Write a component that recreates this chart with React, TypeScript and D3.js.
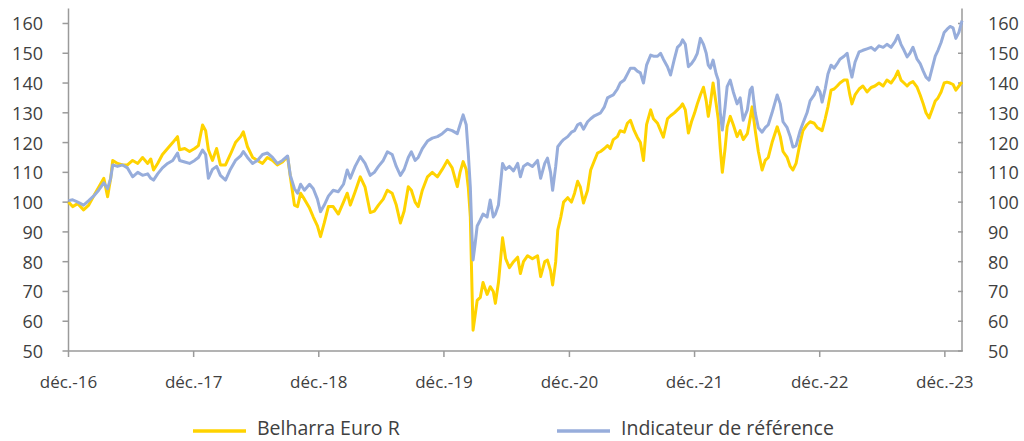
import { useEffect, useRef } from "react";
import * as d3 from "d3";

const dates = [
  "2016-12-01", "2016-12-13", "2016-12-28", "2017-01-14", "2017-01-29", "2017-02-12", "2017-02-27", "2017-03-14",
  "2017-03-25", "2017-04-03", "2017-04-09", "2017-04-23", "2017-05-08", "2017-05-22", "2017-06-06", "2017-06-21",
  "2017-07-05", "2017-07-20", "2017-07-29", "2017-08-06", "2017-08-18", "2017-09-01", "2017-09-16", "2017-10-01",
  "2017-10-15", "2017-10-21", "2017-11-05", "2017-11-19", "2017-12-04", "2017-12-15", "2017-12-27", "2018-01-05",
  "2018-01-13", "2018-01-25", "2018-02-06", "2018-02-17", "2018-03-04", "2018-03-18", "2018-04-02", "2018-04-17",
  "2018-04-25", "2018-05-07", "2018-05-22", "2018-06-05", "2018-06-20", "2018-07-04", "2018-07-19", "2018-08-02",
  "2018-08-17", "2018-09-01", "2018-09-09", "2018-09-21", "2018-09-30", "2018-10-09", "2018-10-20", "2018-11-04",
  "2018-11-15", "2018-11-27", "2018-12-06", "2018-12-17", "2018-12-29", "2019-01-12", "2019-01-27", "2019-02-11",
  "2019-02-22", "2019-03-03", "2019-03-17", "2019-04-01", "2019-04-15", "2019-04-30", "2019-05-12", "2019-05-24",
  "2019-06-07", "2019-06-19", "2019-07-03", "2019-07-15", "2019-07-27", "2019-08-07", "2019-08-19", "2019-08-28",
  "2019-09-08", "2019-09-17", "2019-09-29", "2019-10-14", "2019-10-28", "2019-11-12", "2019-11-26", "2019-12-11",
  "2019-12-25", "2020-01-09", "2020-01-17", "2020-01-26", "2020-02-04", "2020-02-10", "2020-02-16", "2020-02-21",
  "2020-02-24", "2020-03-01", "2020-03-07", "2020-03-16", "2020-03-24", "2020-04-05", "2020-04-14", "2020-04-23",
  "2020-04-29", "2020-05-08", "2020-05-20", "2020-05-29", "2020-06-09", "2020-06-21", "2020-07-03", "2020-07-11",
  "2020-07-20", "2020-08-01", "2020-08-15", "2020-08-30", "2020-09-08", "2020-09-20", "2020-09-28", "2020-10-07",
  "2020-10-13", "2020-10-22", "2020-10-28", "2020-11-06", "2020-11-14", "2020-11-26", "2020-12-07", "2020-12-16",
  "2020-12-25", "2021-01-02", "2021-01-11", "2021-01-23", "2021-02-01", "2021-02-12", "2021-02-21", "2021-03-02",
  "2021-03-13", "2021-03-22", "2021-03-30", "2021-04-08", "2021-04-20", "2021-04-28", "2021-05-10", "2021-05-19",
  "2021-05-28", "2021-06-08", "2021-06-17", "2021-06-26", "2021-07-05", "2021-07-14", "2021-07-26", "2021-08-03",
  "2021-08-15", "2021-08-24", "2021-09-01", "2021-09-13", "2021-09-22", "2021-10-03", "2021-10-12", "2021-10-21",
  "2021-10-27", "2021-11-04", "2021-11-13", "2021-11-22", "2021-12-01", "2021-12-09", "2021-12-18", "2021-12-27",
  "2022-01-04", "2022-01-10", "2022-01-16", "2022-01-24", "2022-02-02", "2022-02-08", "2022-02-14", "2022-02-20",
  "2022-02-28", "2022-03-06", "2022-03-15", "2022-03-24", "2022-04-04", "2022-04-13", "2022-04-22", "2022-05-04",
  "2022-05-12", "2022-05-18", "2022-05-27", "2022-06-05", "2022-06-16", "2022-06-25", "2022-07-04", "2022-07-15",
  "2022-07-30", "2022-08-08", "2022-08-16", "2022-08-28", "2022-09-06", "2022-09-14", "2022-09-23", "2022-10-05",
  "2022-10-13", "2022-10-25", "2022-11-03", "2022-11-15", "2022-11-24", "2022-12-02", "2022-12-08", "2022-12-17",
  "2022-12-25", "2023-01-03", "2023-01-12", "2023-01-21", "2023-01-29", "2023-02-10", "2023-02-19", "2023-02-27",
  "2023-03-05", "2023-03-14", "2023-03-26", "2023-04-06", "2023-04-18", "2023-04-30", "2023-05-11", "2023-05-23",
  "2023-06-04", "2023-06-15", "2023-06-27", "2023-07-09", "2023-07-17", "2023-07-26", "2023-08-04", "2023-08-13",
  "2023-08-21", "2023-08-30", "2023-09-11", "2023-09-20", "2023-09-29", "2023-10-07", "2023-10-16", "2023-10-25",
  "2023-11-03", "2023-11-11", "2023-11-20", "2023-11-29", "2023-12-07", "2023-12-16", "2023-12-25", "2024-01-02",
  "2024-01-11", "2024-01-20",
];

// Belharra Euro R (yellow)
const belharra = [
  100, 98.5, 99.5, 97.4, 99, 102, 105, 108,
  101.8, 108, 114, 113, 112.5, 112.5, 114, 113,
  115, 113, 114.5, 110.8, 113, 116, 118, 120,
  122, 117.6, 118, 117, 118, 119, 125.9, 124,
  117.6, 114, 118, 112.5, 112.5, 116, 120, 122,
  123.6, 118.6, 115, 114, 113, 115, 114, 112.5,
  113.5, 115.3, 108.5, 99, 98.5, 103, 101, 98,
  95, 92, 88.4, 93, 98.5, 98.5, 96, 100,
  103, 99, 103.5, 108.5, 105, 96.5, 97, 99,
  101, 104, 103, 99, 93, 97, 105.2, 104,
  100, 98.5, 104, 108.5, 110, 108.5, 111, 114,
  111.5, 105.2, 110, 113.6, 111, 105, 95, 70,
  57, 62, 67, 68, 73, 69, 71.6, 70,
  66, 73, 88, 81, 78, 80, 81.5, 76,
  80, 82, 81, 82, 75, 80, 80.5, 77,
  72.2, 80, 90.6, 95, 100, 101.5, 100, 103,
  107, 105, 99.7, 104, 110.8, 114, 116.5, 117,
  118, 119, 118, 121, 122, 124, 123.5, 126.5,
  127.5, 124, 121.8, 120, 114, 126, 131, 128,
  126.5, 124, 121.8, 128, 129, 130, 131, 132,
  133, 131, 123.2, 127, 129.9, 133, 136, 138.6,
  134, 128.8, 133, 140, 133, 128, 118, 110,
  118, 125.3, 128.8, 126, 122, 124, 121, 123,
  128, 132, 124, 117, 110.8, 114, 115, 120,
  125.3, 122, 117, 115, 112, 110.8, 113, 120,
  124, 126, 127, 126.5, 125, 124.5, 124, 128,
  132, 137.6, 138, 139, 140, 141, 141, 136,
  133, 136, 138, 139, 137, 138.5, 139, 140,
  139, 141, 140, 142, 144, 141, 140, 139,
  140, 140.5, 138.6, 136, 133, 130, 128.3, 131,
  134, 135, 137, 140, 140.3, 140, 139.5, 137.6,
  139, 140.3,
];

// Indicateur de référence (blue)
const reference = [
  100.5, 100.8, 100, 99, 100.5, 102, 104, 106.5,
  104.5, 108, 112.5, 112, 112.5, 111.5, 108.5, 110,
  109, 109.5, 108, 107.4, 109.5, 111.5, 113, 114,
  116.5, 114, 113.5, 113, 114, 115, 117.5, 116,
  108, 111, 112, 109, 107.4, 111, 114, 115.5,
  117, 115, 113, 114, 116, 116.5, 115, 113,
  114, 115.5, 109, 104.5, 103, 106, 104, 106,
  104.5, 101, 96.8, 99, 102, 104, 103.5, 106,
  110.8, 108, 112, 115.3, 113, 109, 110, 112,
  114, 116.9, 116, 112, 109, 111, 115, 116.9,
  114, 115, 118, 120.5, 121.5, 122, 123, 124.5,
  124, 123, 126, 129.3, 126, 116.5, 105, 88,
  80.6, 86, 92, 94, 96, 95, 100.7, 95,
  96, 99, 113, 111, 112, 110.5, 113, 108.5,
  112, 113, 112, 114, 108, 113, 114.8, 110,
  104, 112, 118.6, 120, 121, 122, 123.5, 124,
  126, 126.5, 124.5, 127, 128, 129, 129.5, 130,
  132, 135, 135.5, 136, 138, 140, 141, 143,
  145, 145, 144, 143.4, 140, 146, 149.4, 149,
  149, 150, 148, 145.5, 142.7, 148, 152, 153,
  154.5, 153, 145.5, 146.5, 148, 150, 155, 153,
  150, 146, 145, 147.7, 143, 141, 130, 124.2,
  132, 138.8, 141, 137, 133, 135, 127.5, 131,
  137.6, 138.6, 130, 125, 123.5, 125, 126, 130,
  136, 133, 127, 125, 122, 118.5, 119, 124,
  126.5, 130, 134, 136, 138.6, 137, 133.6, 138,
  143, 146, 145, 146.5, 148, 149, 150, 145,
  142, 147, 150.5, 151, 151.5, 152, 151, 152.5,
  152, 153, 152, 154, 156, 153, 151, 148.8,
  150, 152, 148, 146.5, 144, 142, 141, 145,
  149, 151, 153.6, 157, 158, 159, 158.5, 155,
  157, 161,
];

const yTicks = [50, 60, 70, 80, 90, 100, 110, 120, 130, 140, 150, 160];
const xTickDates = ["2016-12-01", "2017-12-01", "2018-12-01", "2019-12-01", "2020-12-01", "2021-12-01", "2022-12-01", "2023-12-01"];
const xTickLabels = ["déc.-16", "déc.-17", "déc.-18", "déc.-19", "déc.-20", "déc.-21", "déc.-22", "déc.-23"];
const seriesNames = ["Belharra Euro R", "Indicateur de référence"];

const YELLOW = "#FFD300";
const BLUE = "#97ADDB";
const AXIS = "#9a9a9a";
const TEXT = "#404040";
const FONT = "'Open Sans', 'Noto Sans', sans-serif";

export default function App() {
  const svgRef = useRef<SVGSVGElement>(null);

  useEffect(() => {
    if (!svgRef.current) return;
    const svg = d3.select(svgRef.current);
    svg.selectAll("*").remove();

    const parse = d3.timeParse("%Y-%m-%d");
    const left = 68.5;
    const right = 962;
    const top = 8.6;
    const bottom = 351;

    const x = d3
      .scaleTime()
      .domain([parse("2016-12-01")!, parse("2024-01-20")!])
      .range([left, right]);
    const y = d3.scaleLinear().domain([50, 165]).range([bottom, top]);

    const rows = dates.map((d, i) => ({
      date: parse(d)!,
      b: belharra[i],
      r: reference[i],
    }));

    // axis lines (left, right, bottom)
    svg.append("line")
      .attr("x1", left).attr("x2", left).attr("y1", top).attr("y2", bottom)
      .attr("stroke", AXIS).attr("stroke-width", 1.5);
    svg.append("line")
      .attr("x1", right).attr("x2", right).attr("y1", top).attr("y2", bottom)
      .attr("stroke", AXIS).attr("stroke-width", 1.5);
    svg.append("line")
      .attr("x1", left).attr("x2", right).attr("y1", bottom).attr("y2", bottom)
      .attr("stroke", AXIS).attr("stroke-width", 1.5);

    // y ticks on both sides
    yTicks.forEach((t) => {
      const yy = y(t);
      svg.append("line")
        .attr("x1", left - 6).attr("x2", left).attr("y1", yy).attr("y2", yy)
        .attr("stroke", AXIS).attr("stroke-width", 1.5);
      svg.append("line")
        .attr("x1", right - 4).attr("x2", right + 1).attr("y1", yy).attr("y2", yy)
        .attr("stroke", AXIS).attr("stroke-width", 1.5);
      svg.append("text")
        .attr("x", 43).attr("y", yy)
        .attr("text-anchor", "end").attr("dominant-baseline", "central")
        .attr("font-size", "18px").attr("font-family", FONT).attr("fill", TEXT)
        .text(t);
      svg.append("text")
        .attr("x", 988).attr("y", yy)
        .attr("text-anchor", "start").attr("dominant-baseline", "central")
        .attr("font-size", "18px").attr("font-family", FONT).attr("fill", TEXT)
        .text(t);
    });

    // x ticks
    xTickDates.forEach((d, i) => {
      const xx = x(parse(d)!);
      svg.append("line")
        .attr("x1", xx).attr("x2", xx).attr("y1", bottom).attr("y2", bottom + 6)
        .attr("stroke", AXIS).attr("stroke-width", 1.5);
      svg.append("text")
        .attr("x", xx).attr("y", 381)
        .attr("text-anchor", "middle").attr("dominant-baseline", "central")
        .attr("font-size", "17px").attr("font-family", FONT).attr("fill", TEXT)
        .text(xTickLabels[i]);
    });

    // series lines, reference drawn on top
    const lineB = d3.line<typeof rows[number]>().x((d) => x(d.date)).y((d) => y(d.b));
    const lineR = d3.line<typeof rows[number]>().x((d) => x(d.date)).y((d) => y(d.r));

    svg.append("path")
      .datum(rows)
      .attr("d", lineB)
      .attr("fill", "none")
      .attr("stroke", YELLOW)
      .attr("stroke-width", 3)
      .attr("stroke-linejoin", "round");

    svg.append("path")
      .datum(rows)
      .attr("d", lineR)
      .attr("fill", "none")
      .attr("stroke", BLUE)
      .attr("stroke-width", 3)
      .attr("stroke-linejoin", "round");

    // legend
    const legend = [
      { label: seriesNames[0], color: YELLOW, x: 193 },
      { label: seriesNames[1], color: BLUE, x: 557 },
    ];
    legend.forEach((l) => {
      svg.append("line")
        .attr("x1", l.x).attr("x2", l.x + 53).attr("y1", 431).attr("y2", 431)
        .attr("stroke", l.color).attr("stroke-width", 3.5);
      svg.append("text")
        .attr("x", l.x + 64).attr("y", 435)
        .attr("font-size", "19.5px").attr("font-family", FONT).attr("fill", TEXT)
        .text(l.label);
    });
  }, []);

  return (
    <svg
      ref={svgRef}
      width={1024}
      height={441}
      style={{ position: "absolute", left: 0, top: 0, background: "#fff" }}
    />
  );
}
